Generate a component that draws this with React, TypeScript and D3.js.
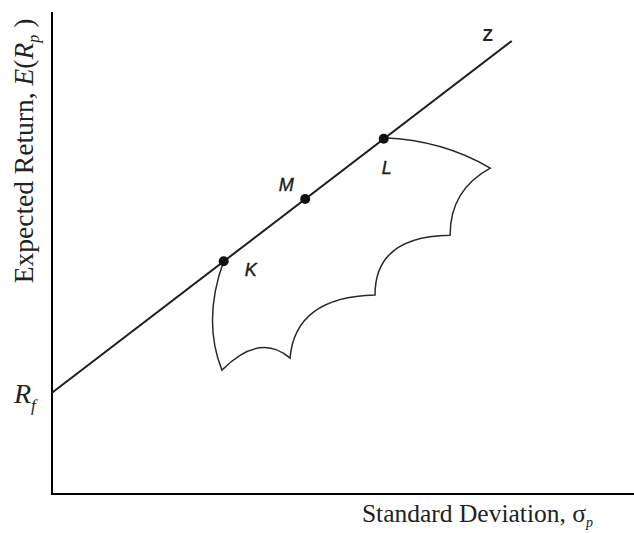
import React from "react";
import * as d3 from "d3";

// ---- data (arbitrary units, no ticks shown) ----
const riskFreeRate = 21;
const cmlEndSigma = 79;
const cmlEndReturn = 94;

const pointNames = ["K", "M", "L"];
const pointSigma = [29.5, 43.5, 57.0];
const pointReturn = [48.3, 61.2, 73.7];

// efficient-frontier outline: vertices and quadratic control points (bulges)
const frontierSigma = [57.0, 75.3, 68.4, 55.5, 40.9, 29.2, 29.5];
const frontierReturn = [73.9, 67.6, 53.7, 41.3, 28.2, 25.7, 48.3];
const bulgeSigma = [67.2, 68.4, 55.5, 41.8, 35.7, 25.8];
const bulgeReturn = [73.4, 63.1, 53.5, 40.9, 33.6, 36.1];

const W = 634;
const H = 533;

export default function App() {
  const x = d3.scaleLinear().domain([0, 100]).range([52, 634]);
  const y = d3.scaleLinear().domain([0, 100]).range([494, 12]);

  const p = d3.path();
  p.moveTo(x(frontierSigma[0]), y(frontierReturn[0]));
  for (let i = 0; i < bulgeSigma.length; i++) {
    p.quadraticCurveTo(
      x(bulgeSigma[i]),
      y(bulgeReturn[i]),
      x(frontierSigma[i + 1]),
      y(frontierReturn[i + 1])
    );
  }

  const line = d3.line<[number, number]>()
    .x((d) => x(d[0]))
    .y((d) => y(d[1]));

  const labelOffsets: Record<string, [number, number]> = {
    K: [27, 9],
    M: [-19, -14],
    L: [3, 29],
  };

  const serif = "'Liberation Serif', 'Times New Roman', serif";
  const sans = "'Liberation Sans', Arial, sans-serif";

  return (
    <svg
      width={W}
      height={H}
      style={{ position: "absolute", left: 0, top: 0, background: "#fff" }}
    >
      {/* axes */}
      <line x1={x(0)} y1={y(100)} x2={x(0)} y2={y(0) + 1} stroke="#000" strokeWidth={2} />
      <line x1={x(0) - 1} y1={y(0)} x2={x(100)} y2={y(0)} stroke="#000" strokeWidth={2} />

      {/* frontier */}
      <path d={p.toString()} fill="none" stroke="#2a2a2a" strokeWidth={1.5} />

      {/* capital market line */}
      <path
        d={line([[0, riskFreeRate], [cmlEndSigma, cmlEndReturn]]) || ""}
        fill="none"
        stroke="#1e1e1e"
        strokeWidth={2}
      />

      {/* points */}
      {pointNames.map((n, i) => (
        <g key={n}>
          <circle cx={x(pointSigma[i])} cy={y(pointReturn[i])} r={5} fill="#111" />
          <text
            x={x(pointSigma[i]) + labelOffsets[n][0]}
            y={y(pointReturn[i]) + labelOffsets[n][1]}
            dominantBaseline="central"
            textAnchor="middle"
            fontFamily={sans}
            fontStyle="italic"
            fontSize={18}
            stroke="#1a1a1a"
            strokeWidth={0.4}
            fill="#1a1a1a"
          >
            {n}
          </text>
        </g>
      ))}
      <text
        x={x(cmlEndSigma) - 24}
        y={y(cmlEndReturn) - 5}
        dominantBaseline="central"
        textAnchor="middle"
        fontFamily={sans}
        fontWeight="bold"
        fontSize={17}
        fill="#222"
      >
        Z
      </text>

      {/* Rf label */}
      <text x={14} y={403} fontFamily={serif} fontSize={28} fill="#222">
        <tspan fontStyle="italic">R</tspan>
        <tspan fontStyle="italic" fontSize={17} dy={8}>f</tspan>
      </text>

      {/* y axis title */}
      <text
        transform="translate(33,151) rotate(-90)"
        textAnchor="middle"
        fontFamily={serif}
        fontSize={27.5}
        fill="#222"
      >
        Expected Return,{" "}
        <tspan fontStyle="italic">E</tspan>(<tspan fontStyle="italic">R</tspan>
        <tspan fontStyle="italic" fontSize={16} dy={6}>p</tspan>
        <tspan dy={-6}> )</tspan>
      </text>

      {/* x axis title */}
      <text x={593} y={522} textAnchor="end" fontFamily={serif} fontSize={25.5} fill="#222">
        Standard Deviation, σ
        <tspan fontStyle="italic" fontSize={14} dy={5}>p</tspan>
      </text>
    </svg>
  );
}
